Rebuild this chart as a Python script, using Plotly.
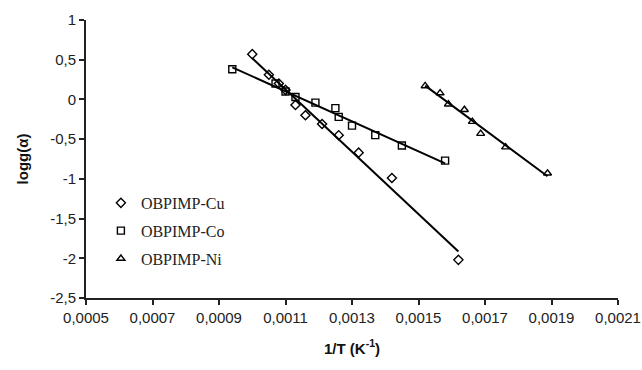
import numpy as np
import plotly.graph_objects as go

# Data
cu_x = [0.00100, 0.00105, 0.00108, 0.00110, 0.00113, 0.00116, 0.00121, 0.00126, 0.00132, 0.00142, 0.00162]
cu_y = [0.57, 0.31, 0.20, 0.12, -0.07, -0.20, -0.31, -0.45, -0.67, -0.99, -2.02]
co_x = [0.00094, 0.00107, 0.00110, 0.00113, 0.00119, 0.00125, 0.00126, 0.00130, 0.00137, 0.00145, 0.00158]
co_y = [0.38, 0.20, 0.10, 0.03, -0.04, -0.11, -0.22, -0.33, -0.45, -0.58, -0.77]
ni_x = [0.00152, 0.001565, 0.00159, 0.001638, 0.001662, 0.001687, 0.001762, 0.001888]
ni_y = [0.17, 0.08, -0.06, -0.13, -0.28, -0.43, -0.60, -0.93]

x_ticks = [0.0005, 0.0007, 0.0009, 0.0011, 0.0013, 0.0015, 0.0017, 0.0019, 0.0021]
x_labels = ["0,0005", "0,0007", "0,0009", "0,0011", "0,0013", "0,0015", "0,0017", "0,0019", "0,0021"]
y_ticks = [1, 0.5, 0, -0.5, -1, -1.5, -2, -2.5]
y_labels = ["1", "0,5", "0", "-0,5", "-1", "-1,5", "-2", "-2,5"]

series = [
    ("OBPIMP-Cu", cu_x, cu_y, "diamond-open"),
    ("OBPIMP-Co", co_x, co_y, "square-open"),
    ("OBPIMP-Ni", ni_x, ni_y, "triangle-up-open"),
]

fig = go.Figure()
for name, xs, ys, sym in series:
    xs_a = np.array(xs)
    ys_a = np.array(ys)
    k, b = np.polyfit(xs_a, ys_a, 1)
    xl = np.array([xs_a.min(), xs_a.max()])
    fig.add_trace(go.Scatter(x=xl, y=k * xl + b, mode="lines",
                             line=dict(color="black", width=2), showlegend=False,
                             hoverinfo="skip"))
for i, (name, xs, ys, sym) in enumerate(series):
    fig.add_trace(go.Scatter(x=xs, y=ys, mode="markers", name=name, legendgroup=f"g{i}",
                             marker=dict(symbol=sym, size=7, color="black",
                                         line=dict(color="black", width=1.4))))

tick_font = dict(family="Liberation Sans, Arial", size=15, color="#222")
title_font = dict(family="Liberation Sans, Arial", size=15, color="#111")
fig.update_layout(
    width=642, height=370,
    margin=dict(l=86, r=24, t=20, b=72),
    paper_bgcolor="white", plot_bgcolor="white",
    showlegend=True,
    legend=dict(x=0.028, y=0.403, xanchor="left", yanchor="top",
                font=dict(family="Liberation Serif, Times New Roman", size=16, color="#222"),
                bgcolor="rgba(0,0,0,0)", tracegroupgap=4, itemwidth=30),
    xaxis=dict(range=[0.0005, 0.0021], tickvals=x_ticks, ticktext=x_labels,
               showgrid=False, zeroline=False, showline=True, linecolor="#222", linewidth=2,
               ticks="outside", ticklen=5, tickwidth=2, tickcolor="#222",
               tickfont=tick_font, automargin=False,
               title=dict(text="<b>1/T (K<sup>-1</sup>)</b>", font=title_font, standoff=18)),
    yaxis=dict(range=[-2.5, 1], tickvals=y_ticks, ticktext=y_labels,
               showgrid=False, zeroline=False, showline=True, linecolor="#222", linewidth=2,
               ticks="outside", ticklen=5, tickwidth=2, tickcolor="#222",
               tickfont=tick_font, automargin=False,
               title=dict(text="<b>logg(α)</b>", font=title_font, standoff=18)),
)
fig.write_html("out.html")
